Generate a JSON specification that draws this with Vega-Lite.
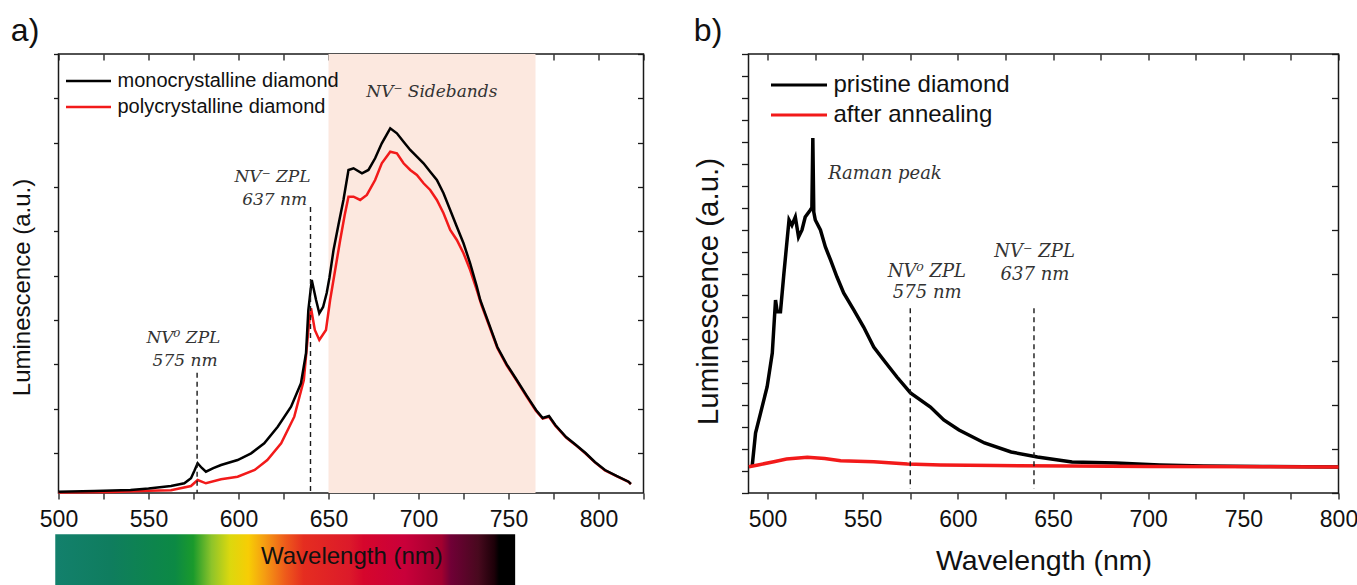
{
  "$schema": "https://vega.github.io/schema/vega-lite/v6.json",
  "padding": {"left": 9.5, "top": 14, "right": 0, "bottom": 0},
  "spacing": 47,
  "resolve": {"scale": {"color": "independent"}, "legend": {"color": "independent"}},
  "config": {
    "view": {"stroke": "#1a1a1a", "strokeWidth": 1.5},
    "font": "Liberation Sans",
    "axis": {"grid": false, "domain": false, "tickColor": "#1a1a1a", "tickWidth": 1.3, "labelColor": "#111111", "titleColor": "#111111", "labelFont": "Liberation Sans", "titleFont": "Liberation Sans", "titleFontWeight": "normal"},
    "legend": {"padding": 0, "labelFont": "Liberation Sans", "labelColor": "#111111", "rowPadding": 0, "labelLimit": 500},
    "title": {"font": "Liberation Sans", "fontWeight": "normal", "color": "#111111", "anchor": "start", "frame": "bounds", "fontSize": 32, "offset": 5}
  },
  "datasets": {
    "a_band": [{"from": 650, "to": 765}],
    "a_spectrum": [{"from": 498.2, "to": 753.7, "label": "Wavelength (nm)"}],
    "a_zpl": [{"wl": 577, "top": 1.81}, {"wl": 640, "top": 5.55}],
    "a_notes": [
      {"wl": 707.4, "lum": 8.14, "label": "NV⁻ Sidebands"},
      {"wl": 618.9, "lum": 6.23, "label": "NV⁻ ZPL"},
      {"wl": 620.1, "lum": 5.71, "label": "637 nm"},
      {"wl": 569.4, "lum": 2.6, "label": "NV⁰ ZPL"},
      {"wl": 570.3, "lum": 2.08, "label": "575 nm"}
    ],
    "a": [
      {"series": "polycrystalline diamond", "wl": 500, "lum": -0.889},
      {"series": "polycrystalline diamond", "wl": 530, "lum": -0.877},
      {"series": "polycrystalline diamond", "wl": 550, "lum": -0.85},
      {"series": "polycrystalline diamond", "wl": 562.5, "lum": -0.84},
      {"series": "polycrystalline diamond", "wl": 573.6, "lum": -0.742},
      {"series": "polycrystalline diamond", "wl": 577.3, "lum": -0.607},
      {"series": "polycrystalline diamond", "wl": 581.9, "lum": -0.681},
      {"series": "polycrystalline diamond", "wl": 590.3, "lum": -0.591},
      {"series": "polycrystalline diamond", "wl": 599.5, "lum": -0.532},
      {"series": "polycrystalline diamond", "wl": 609, "lum": -0.381},
      {"series": "polycrystalline diamond", "wl": 616, "lum": -0.156},
      {"series": "polycrystalline diamond", "wl": 623.7, "lum": 0.221},
      {"series": "polycrystalline diamond", "wl": 631, "lum": 0.821},
      {"series": "polycrystalline diamond", "wl": 636.3, "lum": 1.649},
      {"series": "polycrystalline diamond", "wl": 639, "lum": 2.851},
      {"series": "polycrystalline diamond", "wl": 640.3, "lum": 3.266},
      {"series": "polycrystalline diamond", "wl": 642.4, "lum": 2.776},
      {"series": "polycrystalline diamond", "wl": 644.9, "lum": 2.551},
      {"series": "polycrystalline diamond", "wl": 648.6, "lum": 2.776},
      {"series": "polycrystalline diamond", "wl": 650.9, "lum": 3.453},
      {"series": "polycrystalline diamond", "wl": 653.7, "lum": 4.129},
      {"series": "polycrystalline diamond", "wl": 656.5, "lum": 4.806},
      {"series": "polycrystalline diamond", "wl": 659, "lum": 5.37},
      {"series": "polycrystalline diamond", "wl": 661.1, "lum": 5.783},
      {"series": "polycrystalline diamond", "wl": 663.9, "lum": 5.783},
      {"series": "polycrystalline diamond", "wl": 667.6, "lum": 5.708},
      {"series": "polycrystalline diamond", "wl": 671.3, "lum": 5.821},
      {"series": "polycrystalline diamond", "wl": 675.9, "lum": 6.159},
      {"series": "polycrystalline diamond", "wl": 679.6, "lum": 6.536},
      {"series": "polycrystalline diamond", "wl": 684.3, "lum": 6.797},
      {"series": "polycrystalline diamond", "wl": 688, "lum": 6.761},
      {"series": "polycrystalline diamond", "wl": 691.7, "lum": 6.536},
      {"series": "polycrystalline diamond", "wl": 695.4, "lum": 6.385},
      {"series": "polycrystalline diamond", "wl": 699.1, "lum": 6.272},
      {"series": "polycrystalline diamond", "wl": 702.8, "lum": 6.085},
      {"series": "polycrystalline diamond", "wl": 706.5, "lum": 5.934},
      {"series": "polycrystalline diamond", "wl": 710.2, "lum": 5.708},
      {"series": "polycrystalline diamond", "wl": 713.9, "lum": 5.408},
      {"series": "polycrystalline diamond", "wl": 717.6, "lum": 5.032},
      {"series": "polycrystalline diamond", "wl": 721.3, "lum": 4.806},
      {"series": "polycrystalline diamond", "wl": 725, "lum": 4.506},
      {"series": "polycrystalline diamond", "wl": 728.7, "lum": 4.129},
      {"series": "polycrystalline diamond", "wl": 732.4, "lum": 3.678},
      {"series": "polycrystalline diamond", "wl": 735, "lum": 3.34},
      {"series": "polycrystalline diamond", "wl": 739, "lum": 2.9},
      {"series": "polycrystalline diamond", "wl": 743.8, "lum": 2.37},
      {"series": "polycrystalline diamond", "wl": 749, "lum": 1.98},
      {"series": "polycrystalline diamond", "wl": 754.6, "lum": 1.63},
      {"series": "polycrystalline diamond", "wl": 760, "lum": 1.28},
      {"series": "polycrystalline diamond", "wl": 765.3, "lum": 0.95},
      {"series": "polycrystalline diamond", "wl": 769, "lum": 0.78},
      {"series": "polycrystalline diamond", "wl": 772.5, "lum": 0.82},
      {"series": "polycrystalline diamond", "wl": 776, "lum": 0.62},
      {"series": "polycrystalline diamond", "wl": 782, "lum": 0.35},
      {"series": "polycrystalline diamond", "wl": 787, "lum": 0.19},
      {"series": "polycrystalline diamond", "wl": 792.8, "lum": -0.01},
      {"series": "polycrystalline diamond", "wl": 798, "lum": -0.21},
      {"series": "polycrystalline diamond", "wl": 803.6, "lum": -0.39},
      {"series": "polycrystalline diamond", "wl": 810, "lum": -0.52},
      {"series": "polycrystalline diamond", "wl": 816.7, "lum": -0.65},
      {"series": "polycrystalline diamond", "wl": 818, "lum": -0.7},
      {"series": "monocrystalline diamond", "wl": 500, "lum": -0.871},
      {"series": "monocrystalline diamond", "wl": 520, "lum": -0.855},
      {"series": "monocrystalline diamond", "wl": 540, "lum": -0.832},
      {"series": "monocrystalline diamond", "wl": 550, "lum": -0.798},
      {"series": "monocrystalline diamond", "wl": 562.5, "lum": -0.742},
      {"series": "monocrystalline diamond", "wl": 569.9, "lum": -0.681},
      {"series": "monocrystalline diamond", "wl": 573.6, "lum": -0.568},
      {"series": "monocrystalline diamond", "wl": 575.5, "lum": -0.4},
      {"series": "monocrystalline diamond", "wl": 577.3, "lum": -0.23},
      {"series": "monocrystalline diamond", "wl": 579.5, "lum": -0.33},
      {"series": "monocrystalline diamond", "wl": 581.9, "lum": -0.419},
      {"series": "monocrystalline diamond", "wl": 586, "lum": -0.34},
      {"series": "monocrystalline diamond", "wl": 590.3, "lum": -0.268},
      {"series": "monocrystalline diamond", "wl": 599.5, "lum": -0.156},
      {"series": "monocrystalline diamond", "wl": 607, "lum": -0.005},
      {"series": "monocrystalline diamond", "wl": 614.3, "lum": 0.221},
      {"series": "monocrystalline diamond", "wl": 621.8, "lum": 0.595},
      {"series": "monocrystalline diamond", "wl": 629.2, "lum": 1.046},
      {"series": "monocrystalline diamond", "wl": 634.7, "lum": 1.574},
      {"series": "monocrystalline diamond", "wl": 637.5, "lum": 2.251},
      {"series": "monocrystalline diamond", "wl": 638.8, "lum": 3.227},
      {"series": "monocrystalline diamond", "wl": 640.7, "lum": 3.904},
      {"series": "monocrystalline diamond", "wl": 643.1, "lum": 3.453},
      {"series": "monocrystalline diamond", "wl": 644.9, "lum": 3.153},
      {"series": "monocrystalline diamond", "wl": 647, "lum": 3.295},
      {"series": "monocrystalline diamond", "wl": 649, "lum": 3.611},
      {"series": "monocrystalline diamond", "wl": 650.5, "lum": 3.949},
      {"series": "monocrystalline diamond", "wl": 652.8, "lum": 4.58},
      {"series": "monocrystalline diamond", "wl": 655.5, "lum": 5.144},
      {"series": "monocrystalline diamond", "wl": 658.3, "lum": 5.708},
      {"series": "monocrystalline diamond", "wl": 661.1, "lum": 6.385},
      {"series": "monocrystalline diamond", "wl": 663.9, "lum": 6.423},
      {"series": "monocrystalline diamond", "wl": 668.6, "lum": 6.31},
      {"series": "monocrystalline diamond", "wl": 672.2, "lum": 6.385},
      {"series": "monocrystalline diamond", "wl": 675.9, "lum": 6.649},
      {"series": "monocrystalline diamond", "wl": 679.6, "lum": 6.987},
      {"series": "monocrystalline diamond", "wl": 684.3, "lum": 7.325},
      {"series": "monocrystalline diamond", "wl": 688, "lum": 7.212},
      {"series": "monocrystalline diamond", "wl": 691.7, "lum": 7.023},
      {"series": "monocrystalline diamond", "wl": 695.4, "lum": 6.836},
      {"series": "monocrystalline diamond", "wl": 699.1, "lum": 6.685},
      {"series": "monocrystalline diamond", "wl": 702.8, "lum": 6.536},
      {"series": "monocrystalline diamond", "wl": 706.5, "lum": 6.346},
      {"series": "monocrystalline diamond", "wl": 710.2, "lum": 6.159},
      {"series": "monocrystalline diamond", "wl": 713.9, "lum": 5.859},
      {"series": "monocrystalline diamond", "wl": 717.6, "lum": 5.483},
      {"series": "monocrystalline diamond", "wl": 721.3, "lum": 5.106},
      {"series": "monocrystalline diamond", "wl": 725, "lum": 4.732},
      {"series": "monocrystalline diamond", "wl": 728.7, "lum": 4.281},
      {"series": "monocrystalline diamond", "wl": 732.4, "lum": 3.753},
      {"series": "monocrystalline diamond", "wl": 734.3, "lum": 3.453},
      {"series": "monocrystalline diamond", "wl": 739, "lum": 2.93},
      {"series": "monocrystalline diamond", "wl": 743.8, "lum": 2.393},
      {"series": "monocrystalline diamond", "wl": 749, "lum": 2.0},
      {"series": "monocrystalline diamond", "wl": 754.6, "lum": 1.649},
      {"series": "monocrystalline diamond", "wl": 760, "lum": 1.3},
      {"series": "monocrystalline diamond", "wl": 765.3, "lum": 0.972},
      {"series": "monocrystalline diamond", "wl": 769, "lum": 0.792},
      {"series": "monocrystalline diamond", "wl": 772.5, "lum": 0.837},
      {"series": "monocrystalline diamond", "wl": 776, "lum": 0.634},
      {"series": "monocrystalline diamond", "wl": 782, "lum": 0.363},
      {"series": "monocrystalline diamond", "wl": 787, "lum": 0.2},
      {"series": "monocrystalline diamond", "wl": 792.8, "lum": 0.002},
      {"series": "monocrystalline diamond", "wl": 798, "lum": -0.2},
      {"series": "monocrystalline diamond", "wl": 803.6, "lum": -0.381},
      {"series": "monocrystalline diamond", "wl": 810, "lum": -0.516},
      {"series": "monocrystalline diamond", "wl": 816.7, "lum": -0.645},
      {"series": "monocrystalline diamond", "wl": 818, "lum": -0.697}
    ],
    "b_zpl": [{"wl": 575, "top": 4.21}, {"wl": 640, "top": 4.21}],
    "b_notes": [
      {"wl": 561.7, "lum": 7.27, "label": "Raman peak"},
      {"wl": 583.7, "lum": 5.04, "label": "NV⁰ ZPL"},
      {"wl": 583.9, "lum": 4.55, "label": "575 nm"},
      {"wl": 640.3, "lum": 5.5, "label": "NV⁻ ZPL"},
      {"wl": 640.5, "lum": 4.97, "label": "637 nm"}
    ],
    "b": [
      {"series": "pristine diamond", "wl": 491.9, "lum": 0.599},
      {"series": "pristine diamond", "wl": 493.7, "lum": 1.367},
      {"series": "pristine diamond", "wl": 496.3, "lum": 1.815},
      {"series": "pristine diamond", "wl": 499.8, "lum": 2.42},
      {"series": "pristine diamond", "wl": 502.5, "lum": 3.189},
      {"series": "pristine diamond", "wl": 504.2, "lum": 4.396},
      {"series": "pristine diamond", "wl": 505.1, "lum": 4.13},
      {"series": "pristine diamond", "wl": 506.8, "lum": 4.13},
      {"series": "pristine diamond", "wl": 508.6, "lum": 5.0},
      {"series": "pristine diamond", "wl": 511.3, "lum": 6.22},
      {"series": "pristine diamond", "wl": 512.8, "lum": 6.1},
      {"series": "pristine diamond", "wl": 514.6, "lum": 6.287},
      {"series": "pristine diamond", "wl": 516.3, "lum": 5.831},
      {"series": "pristine diamond", "wl": 518.1, "lum": 5.991},
      {"series": "pristine diamond", "wl": 519.8, "lum": 6.287},
      {"series": "pristine diamond", "wl": 522.5, "lum": 6.446},
      {"series": "pristine diamond", "wl": 523.3, "lum": 6.5},
      {"series": "pristine diamond", "wl": 523.8, "lum": 8.087},
      {"series": "pristine diamond", "wl": 524.3, "lum": 6.4},
      {"series": "pristine diamond", "wl": 525.1, "lum": 6.219},
      {"series": "pristine diamond", "wl": 527.8, "lum": 5.991},
      {"series": "pristine diamond", "wl": 530.4, "lum": 5.604},
      {"series": "pristine diamond", "wl": 533.1, "lum": 5.308},
      {"series": "pristine diamond", "wl": 536.5, "lum": 4.92},
      {"series": "pristine diamond", "wl": 540, "lum": 4.556},
      {"series": "pristine diamond", "wl": 545.3, "lum": 4.169},
      {"series": "pristine diamond", "wl": 550.5, "lum": 3.781},
      {"series": "pristine diamond", "wl": 555.8, "lum": 3.326},
      {"series": "pristine diamond", "wl": 561, "lum": 3.03},
      {"series": "pristine diamond", "wl": 568, "lum": 2.642},
      {"series": "pristine diamond", "wl": 575.1, "lum": 2.278},
      {"series": "pristine diamond", "wl": 585.6, "lum": 1.959},
      {"series": "pristine diamond", "wl": 592.6, "lum": 1.663},
      {"series": "pristine diamond", "wl": 600.6, "lum": 1.435},
      {"series": "pristine diamond", "wl": 614, "lum": 1.139},
      {"series": "pristine diamond", "wl": 628, "lum": 0.934},
      {"series": "pristine diamond", "wl": 641.8, "lum": 0.82},
      {"series": "pristine diamond", "wl": 660, "lum": 0.706},
      {"series": "pristine diamond", "wl": 683, "lum": 0.683},
      {"series": "pristine diamond", "wl": 706, "lum": 0.638},
      {"series": "pristine diamond", "wl": 729, "lum": 0.615},
      {"series": "pristine diamond", "wl": 760, "lum": 0.604},
      {"series": "pristine diamond", "wl": 800, "lum": 0.592},
      {"series": "after annealing", "wl": 490.2, "lum": 0.599},
      {"series": "after annealing", "wl": 495, "lum": 0.638},
      {"series": "after annealing", "wl": 503.3, "lum": 0.713},
      {"series": "after annealing", "wl": 510, "lum": 0.774},
      {"series": "after annealing", "wl": 520.9, "lum": 0.813},
      {"series": "after annealing", "wl": 530, "lum": 0.786},
      {"series": "after annealing", "wl": 538.4, "lum": 0.736},
      {"series": "after annealing", "wl": 555.8, "lum": 0.713},
      {"series": "after annealing", "wl": 573.5, "lum": 0.661},
      {"series": "after annealing", "wl": 591, "lum": 0.638},
      {"series": "after annealing", "wl": 620, "lum": 0.626},
      {"series": "after annealing", "wl": 660, "lum": 0.615},
      {"series": "after annealing", "wl": 700, "lum": 0.604},
      {"series": "after annealing", "wl": 800, "lum": 0.592}
    ]
  },
  "hconcat": [
    {
      "width": 585,
      "height": 439,
      "title": {"text": "a)"},
      "resolve": {"axis": {"x": "independent", "y": "independent"}},
      "layer": [
        {
          "data": {"name": "a_band"},
          "mark": {"type": "rect", "fill": "#fce8df"},
          "encoding": {
            "x": {"field": "from", "type": "quantitative", "scale": {"domain": [500, 825], "nice": false, "zero": false}, "axis": null},
            "x2": {"field": "to"},
            "y": {"datum": 9, "type": "quantitative", "scale": {"domain": [-0.9, 9], "nice": false, "zero": false}, "axis": null},
            "y2": {"datum": -0.9}
          }
        },
        {
          "data": {"name": "a_spectrum"},
          "mark": {
            "type": "rect",
            "fill": {
              "gradient": "linear", "x1": 0, "y1": 0, "x2": 1, "y2": 0,
              "stops": [
                {"offset": 0, "color": "#13806c"},
                {"offset": 0.12, "color": "#0f7d5e"},
                {"offset": 0.26, "color": "#0c8944"},
                {"offset": 0.3, "color": "#1a9a2c"},
                {"offset": 0.34, "color": "#8ec42a"},
                {"offset": 0.38, "color": "#dcd80e"},
                {"offset": 0.42, "color": "#f7cd05"},
                {"offset": 0.455, "color": "#f59d12"},
                {"offset": 0.5, "color": "#ee5b1b"},
                {"offset": 0.54, "color": "#e52d20"},
                {"offset": 0.64, "color": "#dc1a2a"},
                {"offset": 0.67, "color": "#d6062c"},
                {"offset": 0.76, "color": "#c9003a"},
                {"offset": 0.84, "color": "#a2002f"},
                {"offset": 0.86, "color": "#700036"},
                {"offset": 0.92, "color": "#48091e"},
                {"offset": 0.955, "color": "#1c0008"},
                {"offset": 0.965, "color": "#000000"},
                {"offset": 1, "color": "#000000"}
              ]
            }
          },
          "encoding": {
            "x": {"field": "from", "type": "quantitative", "scale": {"domain": [500, 825], "nice": false, "zero": false}, "axis": null},
            "x2": {"field": "to"},
            "y": {"datum": -1.83, "type": "quantitative", "scale": {"domain": [-0.9, 9], "nice": false, "zero": false}, "axis": null},
            "y2": {"datum": -3.1}
          }
        },
        {
          "data": {"name": "a_spectrum"},
          "mark": {"type": "text", "font": "Liberation Sans", "fontSize": 24, "color": "#111111", "align": "center", "baseline": "middle"},
          "encoding": {
            "x": {"datum": 663, "type": "quantitative", "scale": {"domain": [500, 825], "nice": false, "zero": false}, "axis": null},
            "y": {"datum": -2.34, "type": "quantitative", "scale": {"domain": [-0.9, 9], "nice": false, "zero": false}, "axis": null},
            "text": {"field": "label"}
          }
        },
        {
          "data": {"name": "a"},
          "mark": {"type": "line", "strokeWidth": 2.5},
          "encoding": {
            "x": {
              "field": "wl", "type": "quantitative",
              "scale": {"domain": [500, 825], "nice": false, "zero": false},
              "axis": {"orient": "bottom", "values": [500, 525, 550, 575, 600, 625, 650, 675, 700, 725, 750, 775, 800, 825], "labelExpr": "datum.value % 50 === 0 && datum.value <= 800 ? datum.label : ''", "tickSize": 6, "labelPadding": 9, "labelFontSize": 23, "labelFlush": false, "labelOverlap": false, "title": null}
            },
            "y": {
              "field": "lum", "type": "quantitative",
              "scale": {"domain": [-0.9, 9], "nice": false, "zero": false},
              "axis": {"orient": "left", "values": [0, 1, 2, 3, 4, 5, 6, 7, 8, 9], "labels": false, "tickSize": 5, "title": "Luminescence (a.u.)", "titleFontSize": 24, "titlePadding": 18, "titleY": 233}
            },
            "color": {
              "field": "series", "type": "nominal",
              "scale": {"domain": ["monocrystalline diamond", "polycrystalline diamond"], "range": ["#000000", "#f21a1a"]},
              "legend": {"orient": "none", "legendX": 6, "legendY": 14, "title": null, "symbolType": "stroke", "symbolSize": 2025, "symbolStrokeWidth": 2.5, "labelFontSize": 20, "labelOffset": 5, "clipHeight": 26}
            }
          }
        },
        {
          "data": {"name": "a_zpl"},
          "mark": {"type": "rule", "strokeDash": [5, 4], "strokeWidth": 1.4, "color": "#1a1a1a"},
          "encoding": {
            "x": {
              "field": "wl", "type": "quantitative",
              "scale": {"domain": [500, 825], "nice": false, "zero": false},
              "axis": {"orient": "top", "values": [500, 525, 550, 575, 600, 625, 650, 675, 700, 725, 750, 775, 800, 825], "labels": false, "tickSize": 6, "offset": -6, "title": null}
            },
            "y": {
              "field": "top", "type": "quantitative",
              "scale": {"domain": [-0.9, 9], "nice": false, "zero": false},
              "axis": {"orient": "right", "values": [0, 1, 2, 3, 4, 5, 6, 7, 8, 9], "labels": false, "tickSize": 6, "offset": -6, "title": null}
            },
            "y2": {"datum": -0.9}
          }
        },
        {
          "data": {"name": "a_notes"},
          "mark": {"type": "text", "font": "DejaVu Serif", "fontStyle": "italic", "fontSize": 17, "color": "#333333", "align": "center", "baseline": "middle"},
          "encoding": {
            "x": {"field": "wl", "type": "quantitative", "scale": {"domain": [500, 825], "nice": false, "zero": false}, "axis": null},
            "y": {"field": "lum", "type": "quantitative", "scale": {"domain": [-0.9, 9], "nice": false, "zero": false}, "axis": null},
            "text": {"field": "label"}
          }
        }
      ]
    },
    {
      "width": 590,
      "height": 439,
      "title": {"text": "b)"},
      "resolve": {"axis": {"x": "independent", "y": "independent"}},
      "layer": [
        {
          "data": {"name": "b"},
          "mark": {"type": "line", "strokeWidth": 3.5},
          "encoding": {
            "x": {
              "field": "wl", "type": "quantitative",
              "scale": {"domain": [490, 800], "nice": false, "zero": false},
              "axis": {"orient": "bottom", "values": [500, 525, 550, 575, 600, 625, 650, 675, 700, 725, 750, 775, 800], "labelExpr": "datum.value % 50 === 0 ? datum.label : ''", "tickSize": 6, "labelPadding": 9, "labelFontSize": 23, "labelFlush": false, "labelOverlap": false, "title": "Wavelength (nm)", "titleFontSize": 28.5, "titlePadding": 15}
            },
            "y": {
              "field": "lum", "type": "quantitative",
              "scale": {"domain": [0, 10], "nice": false, "zero": false},
              "axis": {"orient": "left", "values": [0, 0.5, 1, 1.5, 2, 2.5, 3, 3.5, 4, 4.5, 5, 5.5, 6, 6.5, 7, 7.5, 8, 8.5, 9, 9.5, 10], "labels": false, "tickSize": 7, "title": "Luminescence (a.u.)", "titleFontSize": 29.5, "titlePadding": 17, "titleY": 237}
            },
            "color": {
              "field": "series", "type": "nominal",
              "scale": {"domain": ["pristine diamond", "after annealing"], "range": ["#000000", "#f21a1a"]},
              "legend": {"orient": "none", "legendX": 21, "legendY": 16, "title": null, "symbolType": "stroke", "symbolSize": 3136, "symbolStrokeWidth": 3, "labelFontSize": 24, "labelOffset": 5, "clipHeight": 30}
            }
          }
        },
        {
          "data": {"name": "b_zpl"},
          "mark": {"type": "rule", "strokeDash": [5, 4], "strokeWidth": 1.4, "color": "#1a1a1a"},
          "encoding": {
            "x": {
              "field": "wl", "type": "quantitative",
              "scale": {"domain": [490, 800], "nice": false, "zero": false},
              "axis": {"orient": "top", "values": [500, 525, 550, 575, 600, 625, 650, 675, 700, 725, 750, 775, 800], "labels": false, "tickSize": 6, "offset": -6, "title": null}
            },
            "y": {
              "field": "top", "type": "quantitative",
              "scale": {"domain": [0, 10], "nice": false, "zero": false},
              "axis": {"orient": "right", "values": [0, 1, 2, 3, 4, 5, 6, 7, 8, 9, 10], "labels": false, "tickSize": 7, "offset": -7, "title": null}
            },
            "y2": {"datum": 0.1}
          }
        },
        {
          "data": {"name": "b_notes"},
          "mark": {"type": "text", "font": "DejaVu Serif", "fontStyle": "italic", "fontSize": 18, "color": "#333333", "align": "center", "baseline": "middle"},
          "encoding": {
            "x": {"field": "wl", "type": "quantitative", "scale": {"domain": [490, 800], "nice": false, "zero": false}, "axis": null},
            "y": {"field": "lum", "type": "quantitative", "scale": {"domain": [0, 10], "nice": false, "zero": false}, "axis": null},
            "text": {"field": "label"}
          }
        }
      ]
    }
  ]
}
